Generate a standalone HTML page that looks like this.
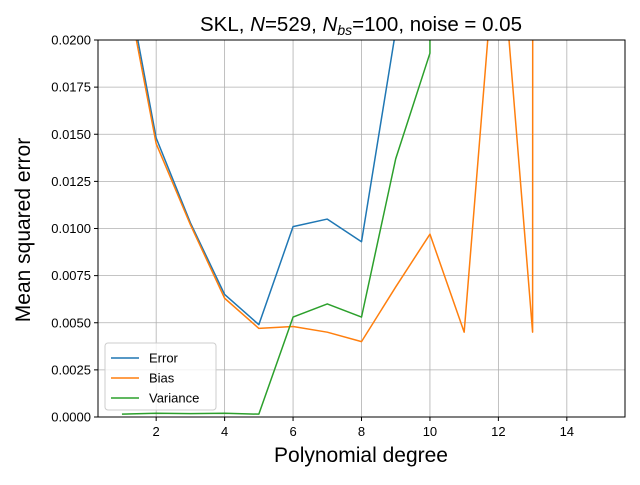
<!DOCTYPE html>
<html><head><meta charset="utf-8"><style>
body{margin:0;background:#fff}
svg{font-family:"Liberation Sans","DejaVu Sans",sans-serif}
</style></head><body>
<svg id="chart" width="640" height="480" viewBox="0 0 640 480">
<defs><clipPath id="clip"><rect x="98" y="40" width="527" height="377"/></clipPath></defs>
<rect width="640" height="480" fill="#fff"/>
<g id="grid"></g>
<g id="series" clip-path="url(#clip)"></g>
<rect x="98" y="40" width="527" height="377" fill="none" stroke="#000" stroke-width="1"/>
<g id="ticks"></g>
<text x="361" y="31" text-anchor="middle" font-size="20.5">SKL, <tspan font-style="italic">N</tspan>=529, <tspan font-style="italic">N</tspan><tspan font-style="italic" font-size="14" dy="4">bs</tspan><tspan dy="-4">=100, noise = 0.05</tspan></text>
<text x="361" y="462" text-anchor="middle" font-size="21">Polynomial degree</text>
<text transform="translate(30,230) rotate(-90)" text-anchor="middle" font-size="21">Mean squared error</text>
<g id="legend">
<rect x="105" y="343" width="111" height="67" rx="3" fill="#fff" fill-opacity="0.8" stroke="#ccc"/>
</g>
</svg>
<script>
const degrees=[1,2,3,4,5,6,7,8,9,10,11,12,13,14,15];
const errorVals=[0.0245,0.0148,0.0103,0.0065,0.0049,0.0101,0.0105,0.0093,0.0205,0.05,1000,1000,1000,1000,1000];
const biasVals=[0.024,0.0145,0.0102,0.0063,0.0047,0.0048,0.0045,0.004,0.0069,0.0097,0.0045,0.027,0.0045,1000,1000];
const varianceVals=[0.00015,0.0002,0.00018,0.0002,0.00015,0.0053,0.006,0.0053,0.0137,0.0193,1000,1000,1000,1000,1000];
const xTicks=[2,4,6,8,10,12,14];
const yTicks=[0,0.0025,0.005,0.0075,0.01,0.0125,0.015,0.0175,0.02];
const yTickLabels=["0.0000","0.0025","0.0050","0.0075","0.0100","0.0125","0.0150","0.0175","0.0200"];
const seriesNames=["Error","Bias","Variance"];
const colors=["#1f77b4","#ff7f0e","#2ca02c"];
const NS="http://www.w3.org/2000/svg";
const X0=98,X1=625,Y0=417,Y1=40,xmin=0.3,xmax=15.7,ymin=0,ymax=0.02;
const xs=v=>X0+(v-xmin)/(xmax-xmin)*(X1-X0);
const ys=v=>{const p=Y0-(v-ymin)/(ymax-ymin)*(Y0-Y1);return Math.max(-1e5,Math.min(1e5,p));};
function mk(tag,attrs,parent){const e=document.createElementNS(NS,tag);for(const k in attrs)e.setAttribute(k,attrs[k]);parent.appendChild(e);return e;}
const grid=document.getElementById('grid'),ticks=document.getElementById('ticks'),series=document.getElementById('series'),legend=document.getElementById('legend');
xTicks.forEach(t=>{
 const l=mk('line',{x1:xs(t),x2:xs(t),y1:Y1,y2:Y0,stroke:'#b0b0b0','stroke-width':0.8},grid);
 
 
 const tk=mk('line',{x1:xs(t),x2:xs(t),y1:Y0,y2:Y0+4,stroke:'#000'},ticks);
 
 
 const tx=mk('text',{x:xs(t),y:Y0+19,'text-anchor':'middle','font-size':13},ticks);
 tx.textContent=t;
 
 
});
yTicks.forEach((t,i)=>{
 const l=mk('line',{x1:X0,x2:X1,y1:ys(t),y2:ys(t),stroke:'#b0b0b0','stroke-width':0.8},grid);
 
 
 const tk=mk('line',{x1:X0-4,x2:X0,y1:ys(t),y2:ys(t),stroke:'#000'},ticks);
 
 
 const tx=mk('text',{x:X0-7,y:ys(t)+4.5,'text-anchor':'end','font-size':13},ticks);
 tx.textContent=yTickLabels[i];
 
 
});
[errorVals,biasVals,varianceVals].forEach((vals,i)=>{
 const pts=degrees.map((d,j)=>xs(d).toFixed(2)+','+ys(vals[j]).toFixed(2)).join(' ');
 const p=mk('polyline',{points:pts,fill:'none',stroke:colors[i],'stroke-width':1.5,'stroke-linejoin':'round'},series);
 
 
 const y=358+i*20;
 const ll=mk('line',{x1:111,x2:139,y1:y,y2:y,stroke:colors[i],'stroke-width':1.5},legend);
 
 
 const lt=mk('text',{x:149,y:y+4.5,'font-size':13},legend);
 lt.textContent=seriesNames[i];
 
 
});
</script>
</body></html>
